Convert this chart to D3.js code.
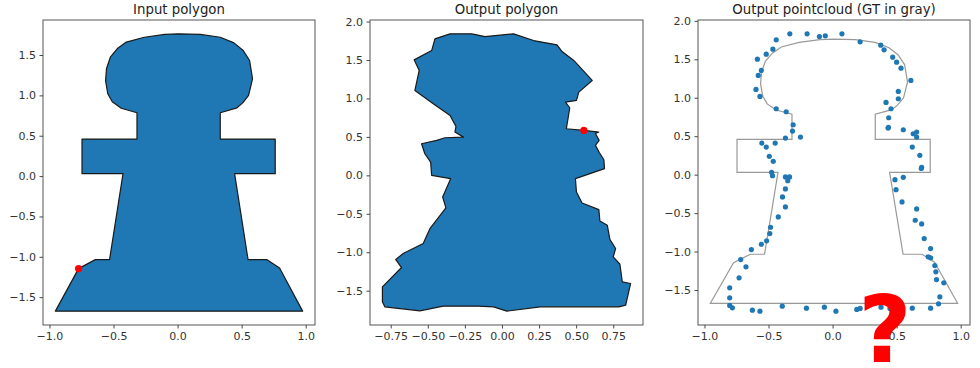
<!DOCTYPE html>
<html>
<head>
<meta charset="utf-8">
<script src="https://cdn.jsdelivr.net/npm/d3@7"></script>
<style>
  html, body { margin: 0; padding: 0; background: #fff; }
  svg { display: block; font-family: "DejaVu Sans", sans-serif; }
</style>
</head>
<body>
<svg id="chart" width="980" height="368"></svg>
<script>
// Ground-truth outline (x, y), clockwise from the bottom-left corner
const gtPolygon = [
  [-0.954, -1.673], [-0.773, -1.146], [-0.642, -1.035], [-0.531, -1.035],
  [-0.426, 0.030], [-0.746, 0.030], [-0.746, 0.458], [-0.317, 0.458],
  [-0.317, 0.785], [-0.440, 0.840], [-0.510, 0.920], [-0.545, 1.020],
  [-0.562, 1.180], [-0.555, 1.330], [-0.525, 1.473], [-0.470, 1.580],
  [-0.400, 1.660], [-0.260, 1.720], [-0.100, 1.755], [0.008, 1.762],
  [0.177, 1.755], [0.333, 1.720], [0.440, 1.650], [0.510, 1.560],
  [0.562, 1.432], [0.585, 1.205], [0.554, 0.999], [0.510, 0.910],
  [0.464, 0.846], [0.333, 0.785], [0.333, 0.458], [0.762, 0.458],
  [0.762, 0.030], [0.445, 0.030], [0.550, -1.035], [0.698, -1.035],
  [0.796, -1.139], [0.976, -1.673]
];

// Predicted outline, clockwise from the top-left
const outPolygon = [
  [-0.452, 1.775], [-0.350, 1.840], [-0.204, 1.840], [-0.114, 1.805],
  [0.078, 1.840], [0.213, 1.753], [0.371, 1.697], [0.405, 1.610],
  [0.484, 1.494], [0.608, 1.234], [0.518, 1.082], [0.502, 0.974],
  [0.428, 0.952], [0.457, 0.879], [0.434, 0.606], [0.552, 0.584],
  [0.653, 0.563], [0.630, 0.545], [0.655, 0.455], [0.630, 0.390],
  [0.655, 0.300], [0.687, 0.203], [0.691, 0.087], [0.495, -0.043],
  [0.502, -0.216], [0.540, -0.359], [0.653, -0.446], [0.660, -0.593],
  [0.710, -0.649], [0.728, -0.835], [0.766, -0.952], [0.750, -1.061],
  [0.795, -1.156], [0.811, -1.385], [0.867, -1.407], [0.834, -1.688],
  [0.788, -1.710], [0.461, -1.710], [0.258, -1.710], [0.033, -1.766],
  [-0.057, -1.710], [-0.159, -1.701], [-0.396, -1.701], [-0.553, -1.762],
  [-0.790, -1.710], [-0.806, -1.645], [-0.806, -1.450], [-0.677, -1.199],
  [-0.716, -1.095], [-0.666, -1.017], [-0.531, -0.887], [-0.486, -0.693],
  [-0.378, -0.424], [-0.400, -0.281], [-0.346, -0.043], [-0.474, 0.000],
  [-0.481, 0.173], [-0.520, 0.281], [-0.542, 0.411], [-0.440, 0.455],
  [-0.384, 0.489], [-0.260, 0.497], [-0.317, 0.563], [-0.310, 0.636],
  [-0.350, 0.779], [-0.463, 0.931], [-0.587, 1.104], [-0.558, 1.364],
  [-0.592, 1.502], [-0.474, 1.623]
];

// Predicted point cloud
const cloudPoints = [
  [-0.334, 1.831], [-0.199, 1.831], [-0.103, 1.797], [-0.057, 1.805],
  [0.073, 1.831], [0.215, 1.727], [0.376, 1.684], [0.402, 1.623],
  [0.469, 1.528], [0.500, 1.463], [0.534, 1.385], [0.611, 1.225],
  [0.513, 1.082], [0.513, 0.987], [0.417, 0.939], [0.456, 0.857],
  [0.438, 0.740], [0.433, 0.606], [0.436, 0.615], [0.552, 0.584],
  [0.629, 0.532], [0.656, 0.554], [0.656, 0.489], [0.622, 0.359],
  [0.681, 0.251], [0.695, 0.095], [0.692, 0.080],
  [-0.440, 1.753], [-0.466, 1.632], [-0.518, 1.567], [-0.587, 1.502],
  [-0.556, 1.355], [-0.580, 1.290], [-0.598, 1.108], [-0.567, 1.017],
  [-0.440, 0.857], [-0.362, 0.818], [-0.308, 0.649], [-0.313, 0.567],
  [-0.251, 0.489], [-0.368, 0.476], [-0.552, 0.411], [-0.448, 0.411],
  [-0.518, 0.359], [-0.494, 0.238], [-0.463, 0.173], [-0.476, 0.030],
  [-0.469, -0.013], [-0.368, -0.030], [-0.336, -0.030], [-0.350, -0.078],
  [-0.368, -0.186], [-0.391, -0.290], [-0.368, -0.420], [-0.424, -0.550],
  [-0.484, -0.684], [-0.490, -0.766], [-0.515, -0.861], [-0.556, -0.905],
  [-0.634, -0.974], [-0.717, -1.104], [-0.676, -1.199], [-0.730, -1.342],
  [-0.803, -1.472], [-0.803, -1.602], [-0.803, -1.701], [-0.782, -1.732],
  [-0.626, -1.762], [-0.567, -1.775], [-0.393, -1.710], [-0.204, -1.736],
  [-0.064, -1.723], [0.026, -1.775], [0.189, -1.753], [0.215, -1.740],
  [0.378, -1.723], [0.448, -1.740], [0.622, -1.736], [0.765, -1.736],
  [0.827, -1.680], [0.837, -1.589], [0.868, -1.407], [0.811, -1.364],
  [0.806, -1.264], [0.798, -1.182], [0.765, -1.082], [0.746, -1.069],
  [0.765, -0.961], [0.715, -0.831], [0.695, -0.641], [0.645, -0.593],
  [0.656, -0.446], [0.542, -0.355], [0.495, -0.195], [0.487, -0.065],
  [0.552, -0.035]
];

// Starting vertex of each outline
const inputStart = [-0.773, -1.146];
const outputStart = [0.552, 0.584];

// Panel titles and tick values
const titles = ["Input polygon", "Output polygon", "Output pointcloud (GT in gray)"];
const xTicksWide = [-1.0, -0.5, 0.0, 0.5, 1.0];
const xTicksNarrow = [-0.75, -0.5, -0.25, 0.0, 0.25, 0.5, 0.75];
const yTicksInput = [-1.5, -1.0, -0.5, 0.0, 0.5, 1.0, 1.5];
const yTicksOutput = [-1.5, -1.0, -0.5, 0.0, 0.5, 1.0, 1.5, 2.0];

const svg = d3.select("#chart");
const plotTop = 20, plotBottom = 325;
const blue = "#1f77b4";

// Matplotlib-style auto limits: data extent padded by 5% on each side
function paddedExtent(values) {
  const [lo, hi] = d3.extent(values);
  const m = (hi - lo) * 0.05;
  return [lo - m, hi + m];
}

function panel(opts) {
  const g = svg.append("g");
  const x = d3.scaleLinear().domain(paddedExtent(opts.xs)).range([opts.left, opts.right]);
  const y = d3.scaleLinear().domain(paddedExtent(opts.ys)).range([plotBottom, plotTop]);

  const xAxis = d3.axisBottom(x).tickValues(opts.xTicks).tickFormat(d3.format(opts.xFmt))
    .tickSize(3.5).tickPadding(3.5);
  const yAxis = d3.axisLeft(y).tickValues(opts.yTicks).tickFormat(d3.format(".1f"))
    .tickSize(3.5).tickPadding(3.5);

  const gx = g.append("g").attr("transform", `translate(0,${plotBottom})`).call(xAxis);
  const gy = g.append("g").attr("transform", `translate(${opts.left},0)`).call(yAxis);
  [gx, gy].forEach(a => {
    a.select(".domain").remove();
    a.selectAll("line").attr("stroke", "#333").attr("stroke-width", 0.9);
    a.selectAll("text").attr("fill", "#333").attr("font-size", 11)
      .attr("font-family", "DejaVu Sans");
  });

  g.append("text")
    .attr("x", (opts.left + opts.right) / 2).attr("y", 14)
    .attr("text-anchor", "middle").attr("font-size", 13.3).attr("fill", "#222")
    .text(opts.title);

  const plot = g.append("g");
  opts.draw(plot, x, y);

  g.append("rect")
    .attr("x", opts.left).attr("y", plotTop)
    .attr("width", opts.right - opts.left).attr("height", plotBottom - plotTop)
    .attr("fill", "none").attr("stroke", "#444").attr("stroke-width", 0.9);
}

const line = (x, y) => d3.line().x(d => x(d[0])).y(d => y(d[1]));

// Panel 1: input polygon
panel({
  left: 43, right: 315, title: titles[0],
  xs: gtPolygon.map(d => d[0]), ys: gtPolygon.map(d => d[1]),
  xTicks: xTicksWide, xFmt: ".1f", yTicks: yTicksInput,
  draw(p, x, y) {
    p.append("path").datum(gtPolygon)
      .attr("d", line(x, y).curve(d3.curveLinearClosed))
      .attr("fill", blue).attr("stroke", "#1a1a1a").attr("stroke-width", 1.2)
      .attr("stroke-linejoin", "round");
    p.append("circle").attr("cx", x(inputStart[0])).attr("cy", y(inputStart[1]))
      .attr("r", 3.6).attr("fill", "#ff0000");
  }
});

// Panel 2: output polygon
panel({
  left: 370, right: 643, title: titles[1],
  xs: outPolygon.map(d => d[0]), ys: outPolygon.map(d => d[1]),
  xTicks: xTicksNarrow, xFmt: ".2f", yTicks: yTicksOutput,
  draw(p, x, y) {
    p.append("path").datum(outPolygon)
      .attr("d", line(x, y).curve(d3.curveLinearClosed))
      .attr("fill", blue).attr("stroke", "#1a1a1a").attr("stroke-width", 1.2)
      .attr("stroke-linejoin", "round");
    p.append("circle").attr("cx", x(outputStart[0])).attr("cy", y(outputStart[1]))
      .attr("r", 3.6).attr("fill", "#ff0000");
  }
});

// Panel 3: point cloud over the ground-truth outline
panel({
  left: 698, right: 970, title: titles[2],
  xs: gtPolygon.concat(cloudPoints).map(d => d[0]),
  ys: gtPolygon.concat(cloudPoints).map(d => d[1]),
  xTicks: xTicksWide, xFmt: ".1f", yTicks: yTicksOutput,
  draw(p, x, y) {
    p.append("path").datum(gtPolygon)
      .attr("d", line(x, y).curve(d3.curveLinearClosed))
      .attr("fill", "none").attr("stroke", "#999").attr("stroke-width", 1.2);
    p.selectAll("circle.pt").data(cloudPoints).join("circle")
      .attr("class", "pt")
      .attr("cx", d => x(d[0])).attr("cy", d => y(d[1]))
      .attr("r", 2.6).attr("fill", blue);
  }
});

// Large red question mark over the lower edge of the last panel
svg.append("text")
  .attr("x", 885).attr("y", 362)
  .attr("text-anchor", "middle")
  .attr("font-family", "DejaVu Sans").attr("font-weight", "bold")
  .attr("font-size", 92).attr("fill", "#ff0000")
  .text("?");
</script>
</body>
</html>
